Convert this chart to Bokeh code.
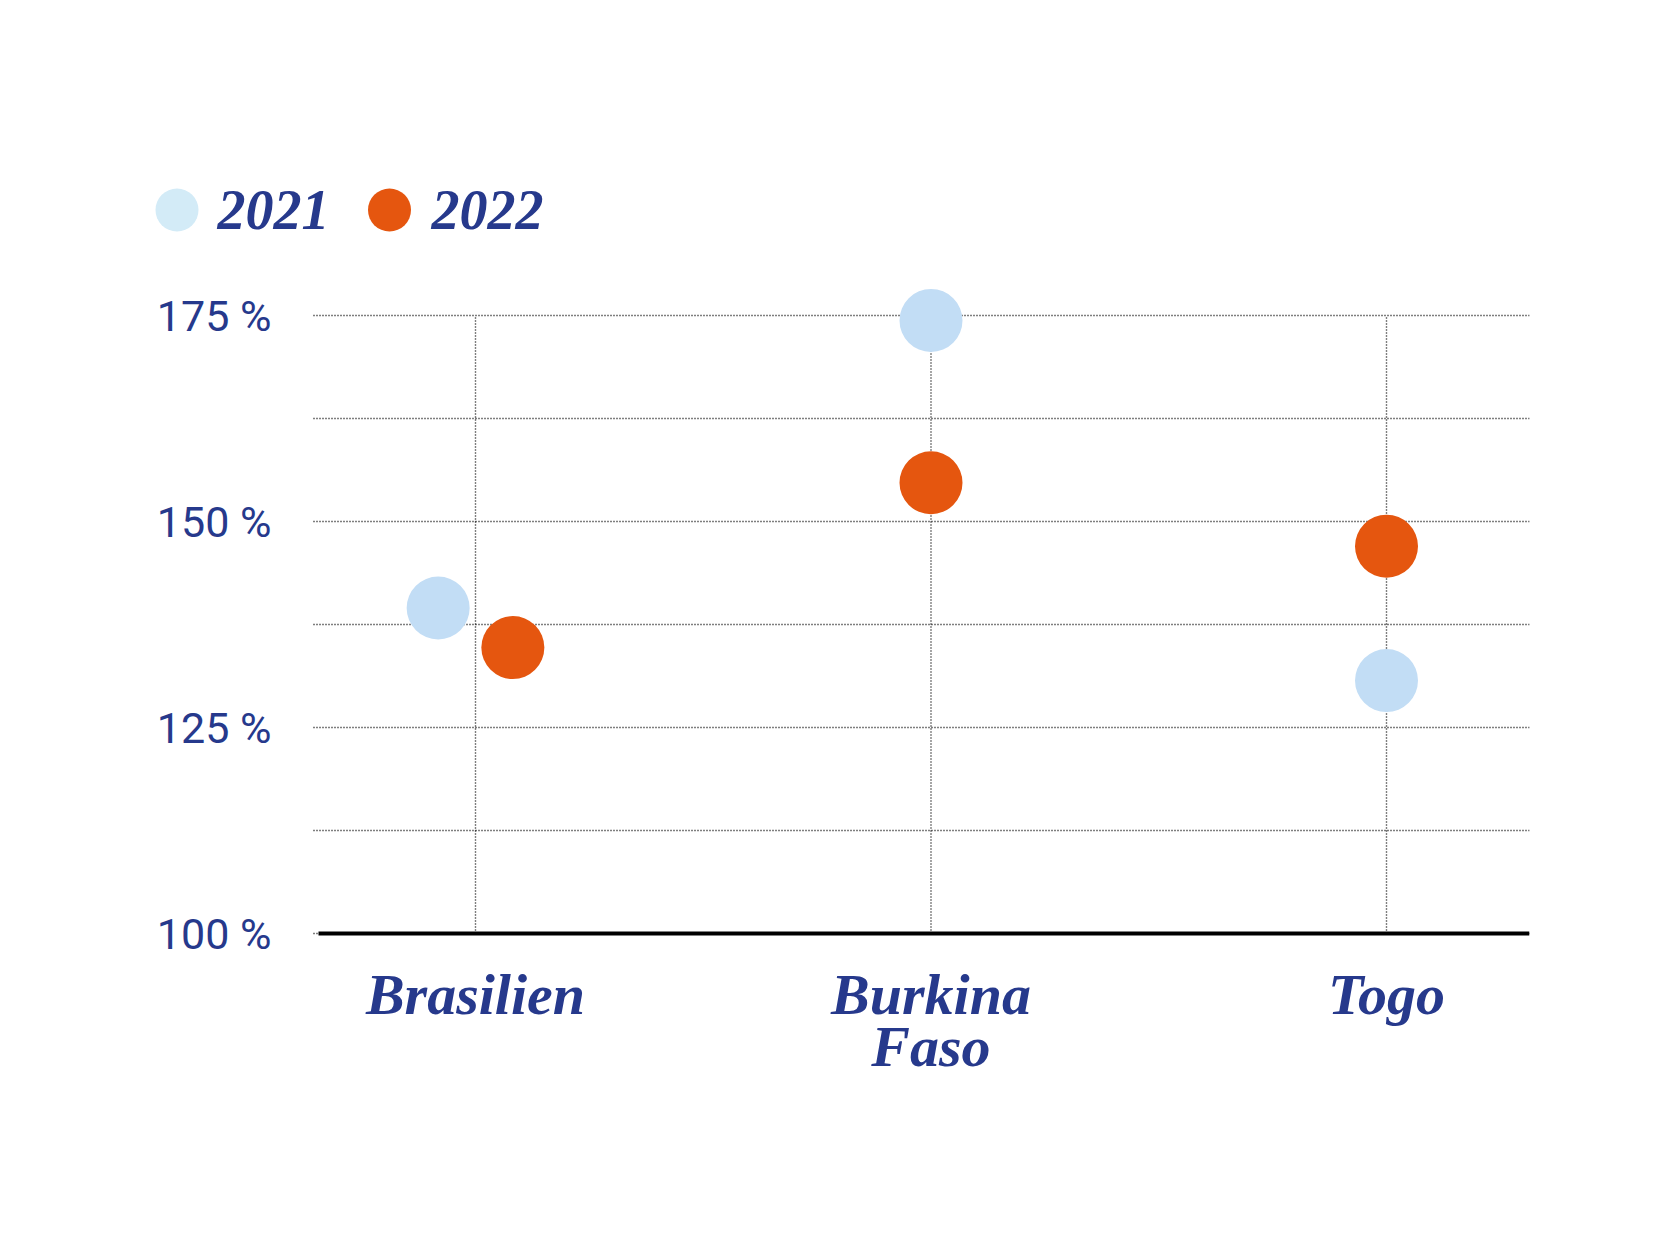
from bokeh.plotting import figure
from bokeh.models import Range1d, FixedTicker, PrintfTickFormatter, ColumnDataSource
from bokeh.embed import file_html
from bokeh.resources import INLINE
from bokeh.core.properties import value

# ---- data ----
countries = ["Brasilien", "Burkina Faso", "Togo"]
country_labels = ["Brasilien", "Burkina\nFaso", "Togo"]
years = ["2021", "2022"]
values_2021 = [139.5, 174.4, 130.7]
values_2022 = [134.7, 154.7, 147.0]
y_ticks = [100, 125, 150, 175]
y_grid_ticks = [100, 112.5, 125, 137.5, 150, 162.5, 175]

# ---- style / layout ----
NAVY = "#26398C"
C2021 = "#C2DDF5"
C2021_LEG = "#D3EBF7"
C2022 = "#E5560F"
SERIF = "Liberation Serif"
GRID = "#000000"

W = 1651
H = 1242
FRAME_L, FRAME_T, FRAME_R, FRAME_B = 100, 120, 1529, 1180   # canvas px
X0_PX, X_UNIT = 475.0, 455.5        # where category 0 sits, px per category
BASE_PX, Y_UNIT = 933.0, 8.24       # where 100 % sits, px per percentage point
PLOT_LEFT_PX = 313                   # left end of the grid area

x_start = (FRAME_L - X0_PX) / X_UNIT
x_end = (FRAME_R - X0_PX) / X_UNIT
y_start = 100 - (FRAME_B - BASE_PX) / Y_UNIT
y_end = 100 + (BASE_PX - FRAME_T) / Y_UNIT
grid_left = (PLOT_LEFT_PX - X0_PX) / X_UNIT


def ypx(py):
    return 100 + (BASE_PX - py) / Y_UNIT


def xpx(px):
    return (px - X0_PX) / X_UNIT


xpos = list(range(len(countries)))
dodge = [0.082, 0.0, 0.0]            # separate the close Brasilien pair
x2021 = [x - d for x, d in zip(xpos, dodge)]
x2022 = [x + d for x, d in zip(xpos, dodge)]

p = figure(width=W, height=H,
           x_range=Range1d(x_start, x_end), y_range=Range1d(y_start, y_end),
           output_backend="svg", toolbar_location=None,
           min_border_left=FRAME_L, min_border_right=W - FRAME_R,
           min_border_top=FRAME_T, min_border_bottom=H - FRAME_B)
p.outline_line_color = None
p.background_fill_color = "white"
p.border_fill_color = "white"
p.xgrid.visible = False
p.ygrid.visible = False

# dotted grid limited to the plot area
p.segment(x0=[grid_left] * len(y_grid_ticks), x1=[x_end] * len(y_grid_ticks),
          y0=y_grid_ticks, y1=y_grid_ticks,
          line_color=GRID, line_dash="1 2", line_width=1.4)
p.segment(x0=xpos, x1=xpos, y0=[y_grid_ticks[0]] * len(xpos), y1=[y_grid_ticks[-1]] * len(xpos),
          line_color=GRID, line_dash="1 2", line_width=1.4)

# points
src21 = ColumnDataSource(dict(x=x2021, y=values_2021))
src22 = ColumnDataSource(dict(x=x2022, y=values_2022))
p.scatter("x", "y", source=src21, size=63, fill_color=C2021, line_color=None)
p.scatter("x", "y", source=src22, size=63, fill_color=C2022, line_color=None)

# legend (top left)
leg_src = ColumnDataSource(dict(
    cx=[xpx(176.5), xpx(389.0)],
    cy=[ypx(209.5)] * 2,
    tx=[xpx(217.0), xpx(431.0)],
    ty=[ypx(209.0)] * 2,
    label=years, color=[C2021_LEG, C2022]))
p.scatter("cx", "cy", source=leg_src, size=43, fill_color="color", line_color=None)
p.text("tx", "ty", text="label", source=leg_src, text_font=value(SERIF),
       text_font_style="bold italic", text_font_size="56px", text_color=NAVY,
       text_baseline="alphabetic", text_align="left")

# x axis, pinned to the 100 % line
xa = p.xaxis[0]
xa.fixed_location = 100
xa.ticker = FixedTicker(ticks=xpos)
xa.major_label_overrides = {i: lab for i, lab in zip(xpos, country_labels)}
xa.bounds = (xpx(318), x_end)
xa.axis_line_color = "black"
xa.axis_line_width = 4
xa.major_tick_line_color = None
xa.minor_tick_line_color = None
xa.major_tick_out = 0
xa.major_tick_in = 0
xa.major_label_standoff = 28
xa.major_label_text_font = SERIF
xa.major_label_text_font_style = "bold italic"
xa.major_label_text_font_size = "58px"
xa.major_label_text_color = NAVY
xa.major_label_text_line_height = 0.8

# y axis, pinned to the left edge of the grid area
ya = p.yaxis[0]
ya.fixed_location = grid_left
ya.ticker = FixedTicker(ticks=y_ticks)
ya.formatter = PrintfTickFormatter(format="%d %%")
ya.axis_line_color = None
ya.major_tick_line_color = None
ya.minor_tick_line_color = None
ya.major_tick_out = 0
ya.major_tick_in = 0
ya.major_label_standoff = 42
ya.major_label_text_font = "Roboto"
ya.major_label_text_font_size = "43px"
ya.major_label_text_color = NAVY

open("out.html", "w").write(file_html(p, INLINE))
